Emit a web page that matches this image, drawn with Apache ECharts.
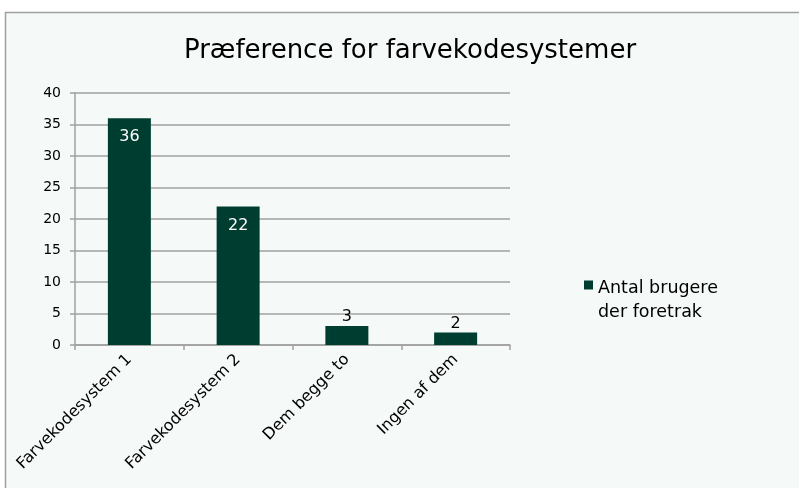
<!DOCTYPE html>
<html>
<head>
<meta charset="utf-8">
<script src="https://cdn.jsdelivr.net/npm/echarts@6/dist/echarts.min.js"></script>
<style>
html,body{margin:0;padding:0;background:#fff;}
#chart{width:799px;height:488px;}
</style>
</head>
<body>
<div id="chart"></div>
<script>
// Survey answers: which colour-coding system users preferred
const categories = ['Farvekodesystem 1', 'Farvekodesystem 2', 'Dem begge to', 'Ingen af dem'];
const counts = [36, 22, 3, 2];
const seriesName = 'Antal brugere\nder foretrak';
const yTicks = { min: 0, max: 40, interval: 5 };

const barColor = '#003d31';
const font = '"DejaVu Sans", Verdana, sans-serif';

// Large bars carry their value inside in white, small ones above in black
const barData = counts.map(v => ({
  value: v,
  label: v >= 10
    ? { position: 'insideTop', color: '#ffffff', distance: 11 }
    : { position: 'top', color: '#000000', distance: 1 }
}));

const chart = echarts.init(document.getElementById('chart'), null, { renderer: 'canvas' });
chart.setOption({
  backgroundColor: '#ffffff',
  animation: false,
  graphic: [{
    type: 'rect',
    shape: { x: 5.5, y: 12.5, width: 820, height: 500 },
    style: { fill: '#f5f9f8', stroke: '#a0a0a0', lineWidth: 1.5 },
    z: -10
  }],
  title: {
    text: 'Præference for farvekodesystemer',
    left: 405,
    textAlign: 'center',
    top: 33,
    textStyle: { fontFamily: font, fontSize: 26, fontWeight: 'normal', color: '#000' }
  },
  legend: {
    left: 579,
    top: 271,
    orient: 'vertical',
    // square marker sits beside the first line of the two-line name
    icon: 'path://M0 0H10V10H0Z M0 0V43.33',
    itemWidth: 9,
    itemHeight: 39,
    itemGap: 4,
    textStyle: { fontFamily: font, fontSize: 17.5, color: '#000', lineHeight: 24 },
    data: [seriesName]
  },
  grid: { left: 75, right: 289, top: 93, bottom: 143, containLabel: false },
  xAxis: {
    type: 'category',
    data: categories,
    axisLine: { lineStyle: { color: '#a0a0a0', width: 1.5 } },
    axisTick: { show: true, length: 5, lineStyle: { color: '#a0a0a0', width: 1.5 } },
    axisLabel: {
      rotate: 45,
      margin: 12,
      fontFamily: font,
      fontSize: 16,
      color: '#000'
    }
  },
  yAxis: {
    type: 'value',
    min: yTicks.min,
    max: yTicks.max,
    interval: yTicks.interval,
    axisLine: { show: true, lineStyle: { color: '#a0a0a0', width: 1.5 } },
    axisTick: { show: true, length: 5, lineStyle: { color: '#a0a0a0', width: 1.5 } },
    splitLine: { lineStyle: { color: '#a0a0a0', width: 1.5 } },
    axisLabel: { fontFamily: font, fontSize: 14, color: '#000', margin: 14 }
  },
  series: [{
    name: seriesName,
    type: 'bar',
    data: barData,
    barWidth: 43,
    itemStyle: { color: barColor },
    label: { show: true, fontFamily: font, fontSize: 16 }
  }]
});
</script>
</body>
</html>
